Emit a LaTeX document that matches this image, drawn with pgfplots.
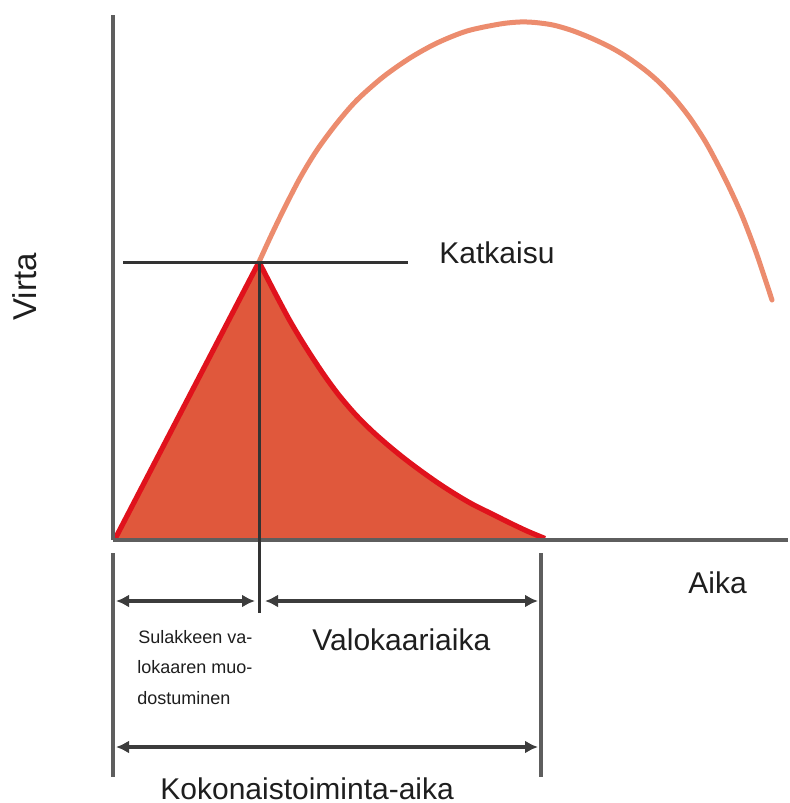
\documentclass[border=0pt]{standalone}
\usepackage{pgfplots}
\pgfplotsset{compat=1.18}
\usepackage{fontspec}
\setmainfont{Liberation Sans}
\usetikzlibrary{arrows.meta}
\definecolor{axgray}{HTML}{5E5E5E}
\definecolor{darkln}{HTML}{333333}
\definecolor{redfill}{HTML}{E0583C}
\definecolor{rededge}{HTML}{E0121C}
\definecolor{salmon}{HTML}{EC8C6E}
\definecolor{txt}{HTML}{1E1E1E}
\begin{document}
\begin{tikzpicture}
\begin{axis}[
  width=394pt, height=401.5pt, scale only axis,
  xmin=0, xmax=788, ymin=0, ymax=803, y dir=reverse,
  hide axis, clip=false,
]
% bounding frame (invisible)
\addplot[draw=none] coordinates {(0,0) (788,803)};
% prospective current (orange)
\addplot[salmon, line width=2.5pt, smooth, tension=0.5, line cap=round] coordinates {
(259,262) (270,238) (283,211) (300,178) (317,150) (337,123) (357,100) (383,77)
(410,58) (437,43) (467,31) (500,24) (520,22) (535,22.5) (553,25) (572,30.5)
(591,38) (610,47) (627,57) (645,70) (660,83) (675,99) (690,118) (705,141)
(717,163) (730,189) (743,218) (757,255) (772,300)};
% limited current (red area)
\addplot[fill=redfill, draw=none] coordinates {
(115,539) (259,262) (275,293) (290,321) (305,346) (322,372) (338,394) (355,414)
(372,431) (389,446) (405,459) (421,471) (438,483) (455,494) (472,504) (490,513)
(508,522) (527,531) (545,538.5)} --cycle;
\addplot[rededge, line width=2.6pt, line join=round] coordinates {(115,539) (259,262)};
\addplot[rededge, line width=2.6pt, smooth, tension=0.5] coordinates {
(259,262) (275,293) (290,321) (305,346) (322,372) (338,394) (355,414)
(372,431) (389,446) (405,459) (421,471) (438,483) (455,494) (472,504) (490,513)
(508,522) (527,531) (545,538.5)};
% axes
\addplot[axgray, line width=2pt] coordinates {(113,15) (113,540)};
\addplot[axgray, line width=2pt] coordinates {(113,540) (788,540)};
% cut-off lines
\addplot[darkln, line width=1.5pt] coordinates {(123,262) (408,262)};
\addplot[darkln, line width=1.5pt] coordinates {(259,262) (259,613)};
% time markers
\addplot[axgray, line width=2pt] coordinates {(113,553) (113,777)};
\addplot[axgray, line width=2pt] coordinates {(541,553) (541,777)};
\addplot[darkln!80!axgray, line width=2pt, {Latex[length=6.5pt,width=6.5pt]}-{Latex[length=6.5pt,width=6.5pt]}] coordinates {(116,601) (255,601)};
\addplot[darkln!80!axgray, line width=2pt, {Latex[length=6.5pt,width=6.5pt]}-{Latex[length=6.5pt,width=6.5pt]}] coordinates {(265,601) (538,601)};
\addplot[darkln!80!axgray, line width=2pt, {Latex[length=6.5pt,width=6.5pt]}-{Latex[length=6.5pt,width=6.5pt]}] coordinates {(116,747) (538,747)};
% texts
\node[txt, anchor=base west, inner sep=0pt, font=\fontsize{15}{18}\selectfont] at (axis cs:439,263) {Katkaisu};
\node[txt, anchor=base west, inner sep=0pt, font=\fontsize{15}{18}\selectfont] at (axis cs:688,593) {Aika};
\node[txt, anchor=base west, inner sep=0pt, font=\fontsize{15}{18}\selectfont] at (axis cs:312,650) {Valokaariaika};
\node[txt, anchor=base west, inner sep=0pt, font=\fontsize{15}{18}\selectfont] at (axis cs:160,799) {Kokonaistoiminta-aika};
\node[txt, rotate=90, anchor=center, inner sep=0pt, font=\fontsize{16.5}{20}\selectfont] at (axis cs:25,287) {Virta};
\node[txt, anchor=base west, inner sep=0pt, font=\fontsize{9}{11}\selectfont] at (axis cs:138,643) {Sulakkeen va-};
\node[txt, anchor=base west, inner sep=0pt, font=\fontsize{9}{11}\selectfont] at (axis cs:137,673) {lokaaren muo-};
\node[txt, anchor=base west, inner sep=0pt, font=\fontsize{9}{11}\selectfont] at (axis cs:137,704) {dostuminen};
\end{axis}
\end{tikzpicture}
\end{document}
